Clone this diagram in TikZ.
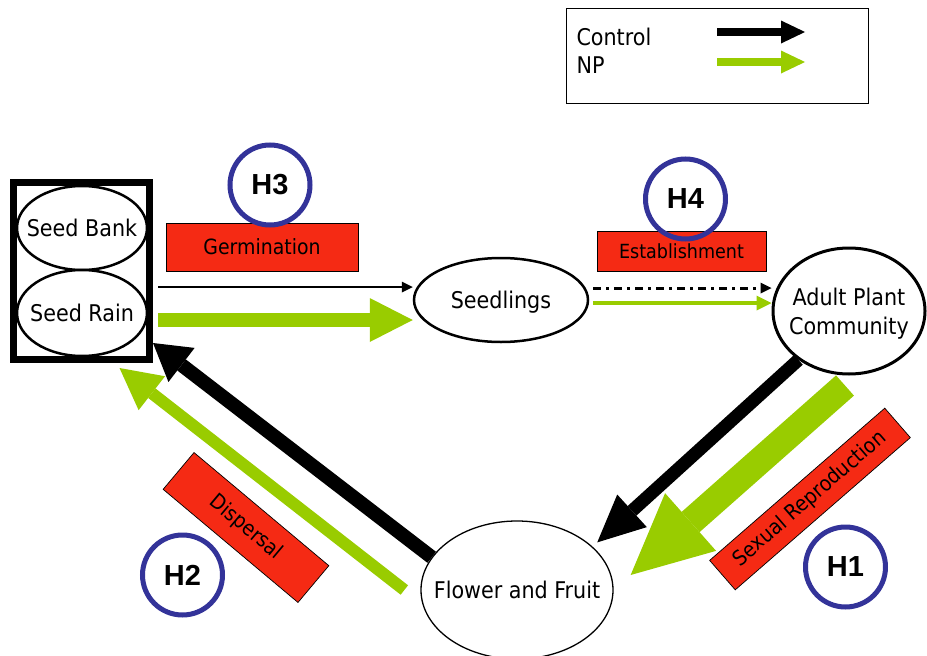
\documentclass[tikz,border=0pt]{standalone}
\usepackage{fontspec}
\setmainfont{DejaVu Sans Condensed}
\newfontfamily\hfont{Liberation Sans}
\usepackage{tikz}
\usetikzlibrary{arrows.meta, calc, shapes, positioning, backgrounds}

\definecolor{boxred}{HTML}{F52A14}
\definecolor{npgreen}{HTML}{99CC00}
\definecolor{hblue}{HTML}{333399}

\newcommand{\pooltext}[1]{\makebox[0pt]{\raisebox{-9pt}[0pt][0pt]{\begin{tabular}{@{}c@{}}#1\end{tabular}}}}

\tikzset{
    pool/.style={draw, ellipse, line width=2.5pt, fill=white, inner sep=0pt},
    stage/.style={draw, line width=0.7pt, fill=boxred, inner sep=0pt, font=\fontsize{21}{25}\selectfont},
    hyp/.style={draw=hblue, circle, line width=5pt, minimum size=80pt, inner sep=0pt, font=\hfont\bfseries\fontsize{29}{29}\selectfont},
    flowhead/.style 2 args={-{Triangle[length=#1, width=#2, line width=0pt]}},
    ctrl/.style={draw=black, line width=#1},
    np/.style={draw=npgreen, line width=#1}
}

\begin{document}
\begin{tikzpicture}[x=1pt, y=-1pt, font=\fontsize{23}{29}\selectfont]
    \useasboundingbox (0,0) rectangle (927,656);
    % Legend
    \node[draw, line width=1pt, minimum width=302pt, minimum height=95pt, inner sep=0pt] (legend) at (717.5,55.5) {};
    \node[anchor=base west] (ctrltxt) at (573,45) {Control};
    \node[anchor=base west] (nptxt) at (573,73) {NP};
    \coordinate (lc1) at (717,32);
    \coordinate (lc2) at (805,32);
    \coordinate (ln1) at (717,62);
    \coordinate (ln2) at (805,62);
    \draw[ctrl=8.5pt, flowhead={24pt}{23pt}] (lc1) -- (lc2);
    \draw[np=8.5pt, flowhead={24pt}{23pt}, npgreen] (ln1) -- (ln2);
    % Seed store
    \node[draw, line width=7pt, minimum width=136pt, minimum height=177pt, inner sep=0pt] (store) at (81.5,271) {};
    \node[pool, minimum width=130pt, minimum height=84pt] (bank) at (82,228) {\pooltext{Seed Bank}};
    \node[pool, minimum width=130pt, minimum height=86pt] (rain) at (82,313) {\pooltext{Seed Rain}};
    % Stages
    \node[pool, minimum width=174pt, minimum height=84pt] (seedlings) at (501,300) {\pooltext{Seedlings}};
    \node[pool, line width=3pt, minimum width=152pt, minimum height=126pt] (adult) at (849,311) {\pooltext{Adult Plant\\Community}};
    \node[pool, line width=1.3pt, minimum width=192pt, minimum height=138pt] (flower) at (517,590) {\pooltext{Flower and Fruit}};
    % Processes
    \node[stage, minimum width=192pt, minimum height=48pt] (germ) at (262,247) {Germination};
    \node[stage, minimum width=169pt, minimum height=40pt, font=\fontsize{19.5}{24}\selectfont] (estab) at (681.5,251) {Establishment};
    \node[stage, minimum width=176pt, minimum height=48pt, rotate=-40] (disp) at (246,527.5) {Dispersal};
    \node[stage, minimum width=232pt, minimum height=39pt, rotate=41] (sexrep) at (810,499) {Sexual Reproduction};
    % Hypotheses
    \node[hyp] (h3) at (270,185) {H3};
    \node[hyp] (h4) at (685.5,199) {H4};
    \node[hyp] (h2) at (182.5,575) {H2};
    \node[hyp] (h1) at (845.5,567) {H1};
    % Flows
    \begin{scope}[on background layer]
        \draw[ctrl=2.5pt, flowhead={11pt}{11pt}] ([xshift=5pt,yshift=-16pt]store.east) -- ([yshift=13pt]seedlings.west);
        \draw[np=14pt, flowhead={43pt}{44pt}, npgreen] ([xshift=5pt,yshift=-49pt]store.east) -- ([yshift=-20pt]seedlings.west);
        \draw[ctrl=3pt, dash pattern=on 8pt off 5pt on 3pt off 5pt, flowhead={11pt}{11pt}] ([xshift=4pt,yshift=12pt]seedlings.east) -- ([yshift=23pt]adult.west);
        \draw[np=4pt, flowhead={15pt}{15pt}, npgreen] ([xshift=4pt,yshift=-3pt]seedlings.east) -- ([yshift=8pt]adult.west);
        \draw[ctrl=13pt, flowhead={47pt}{44pt}] (adult.224) -- ([xshift=6pt,yshift=3pt]flower.31);
        \draw[np=27pt, flowhead={80pt}{77pt}, npgreen] ([xshift=-4pt,yshift=-10pt]adult.south) -- ([xshift=17pt,yshift=15pt]flower.east);
        \draw[ctrl=14pt, flowhead={36pt}{43pt}] (flower.159) -- ([yshift=20pt]store.south east);
        \draw[np=12pt, flowhead={41pt}{43pt}, npgreen] ([xshift=-16pt]flower.west) -- ([xshift=38pt,yshift=-5pt]store.south);
    \end{scope}
\end{tikzpicture}
\end{document}
